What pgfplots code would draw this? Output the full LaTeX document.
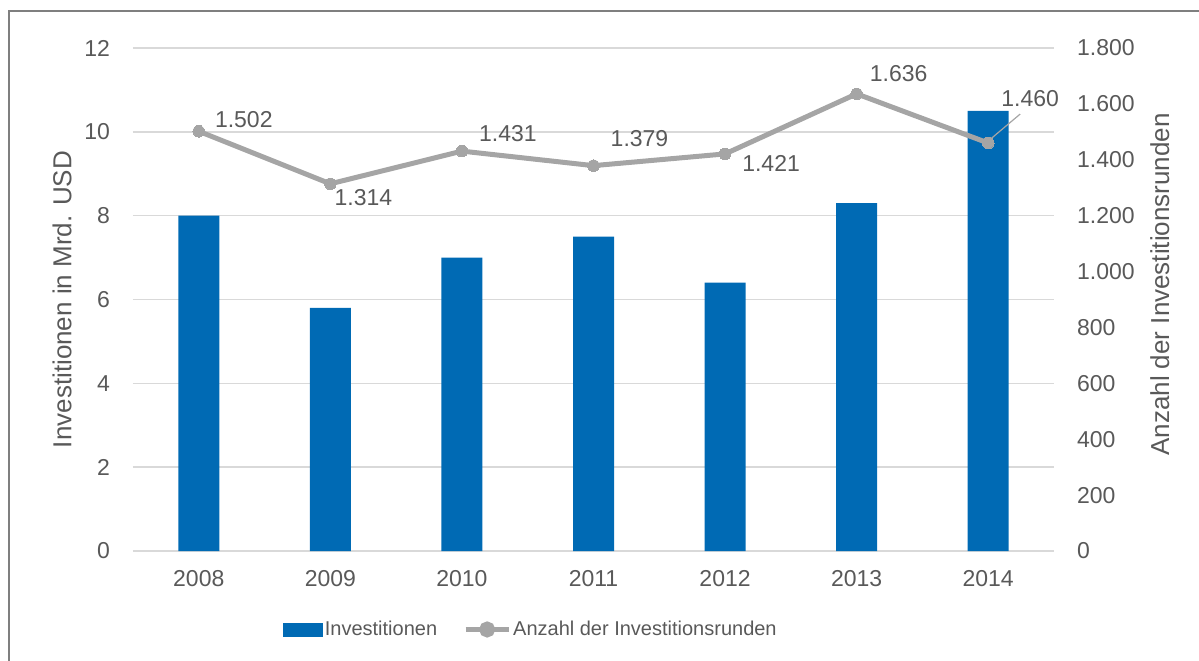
\documentclass[border=0pt]{standalone}
\usepackage{pgfplots}
\pgfplotsset{compat=1.18}
\usepackage{fontspec}
\setmainfont{Liberation Sans}

\definecolor{barblue}{RGB}{0,106,180}
\definecolor{linegray}{RGB}{165,165,165}
\definecolor{txt}{RGB}{89,89,89}
\definecolor{gridc}{RGB}{217,217,217}
\definecolor{framec}{RGB}{127,127,127}

\begin{document}
\begin{tikzpicture}
\pgfplotsset{
  base/.style={
    scale only axis, width=460.5pt, height=251.5pt,
    xmin=-0.5, xmax=6.5,
    axis line style={draw=none},
    tick style={draw=none},
    major tick length=0pt,
    tick label style={font=\fontsize{11.5}{13}\selectfont, text=txt},
    label style={font=\fontsize{13}{15}\selectfont, text=txt},
    /pgf/number format/assume math mode=true,
    /pgf/number format/1000 sep={.},
  }
}
\useasboundingbox (-66.5pt,-54.5pt) rectangle (533pt,275.5pt);
\draw[framec, line width=0.8pt] (-62pt,-60pt) -- (-62pt,270pt) -- (540pt,270pt);

% bars, left axis
\begin{axis}[base,
  ymin=0, ymax=12, ytick={0,2,...,12},
  ymajorgrids, grid style={gridc, line width=0.8pt},
  xtick={0,...,6},
  xticklabels={2008,2009,2010,2011,2012,2013,2014},
  xticklabel style={yshift=-6pt},
  yticklabel style={xshift=-8pt},
  ylabel={Investitionen in Mrd. USD},
  ylabel style={at={(axis description cs:-0.077,0.5)}, anchor=center},
]
\addplot[ybar, bar width=20.5pt, fill=barblue, draw=none]
  coordinates {(0,8.0)(1,5.8)(2,7.0)(3,7.5)(4,6.4)(5,8.3)(6,10.5)};
\end{axis}

% line, right axis
\begin{axis}[base,
  clip=false,
  axis x line=none,
  axis y line*=right,
  ymin=0, ymax=1800, ytick={0,200,...,1800},
  yticklabel style={xshift=8pt},
  ylabel={Anzahl der Investitionsrunden},
  ylabel style={at={(axis description cs:1.115,0.53)}, anchor=center},
  legend style={at={(0.432,-0.156)}, anchor=center, draw=none, fill=none,
    legend columns=2, font=\fontsize{10}{12}\selectfont, text=txt,
    /tikz/every even column/.append style={column sep=12pt},
    nodes={inner xsep=1pt}},
  legend cell align=left,
]
\addlegendimage{legend image code/.code={\fill[barblue] (0pt,-3.25pt) rectangle (19.5pt,3.25pt);}}
\addlegendentry{Investitionen}
\addplot[linegray, line width=2.5pt, mark=*, mark size=2.9pt,
  mark options={fill=linegray, draw=linegray, line width=0pt},
  legend image code/.code={\draw[linegray, line width=2.5pt] (0pt,0pt) -- (21.5pt,0pt);
    \fill[linegray] (10.75pt,0pt) circle (2.75pt);}]
  coordinates {(0,1502)(1,1314)(2,1431)(3,1379)(4,1421)(5,1636)(6,1460)};
\addlegendentry{Anzahl der Investitionsrunden}

\draw[linegray, line width=0.6pt] (axis cs:6,1460) ++(0pt,1pt) -- ++(16pt,13.5pt);
\begin{scope}[every node/.style={font=\fontsize{11.5}{13}\selectfont, text=txt}]
\node at (axis cs:0,1502) [xshift=22.5pt, yshift=6pt] {1.502};
\node at (axis cs:1,1314) [xshift=16.5pt, yshift=-7pt] {1.314};
\node at (axis cs:2,1431) [xshift=23pt, yshift=9pt] {1.431};
\node at (axis cs:3,1379) [xshift=23pt, yshift=13.5pt] {1.379};
\node at (axis cs:4,1421) [xshift=23pt, yshift=-5pt] {1.421};
\node at (axis cs:5,1636) [xshift=21pt, yshift=10pt] {1.636};
\node at (axis cs:6,1460) [xshift=21pt, yshift=22pt] {1.460};
\end{scope}
\end{axis}
\end{tikzpicture}
\end{document}
